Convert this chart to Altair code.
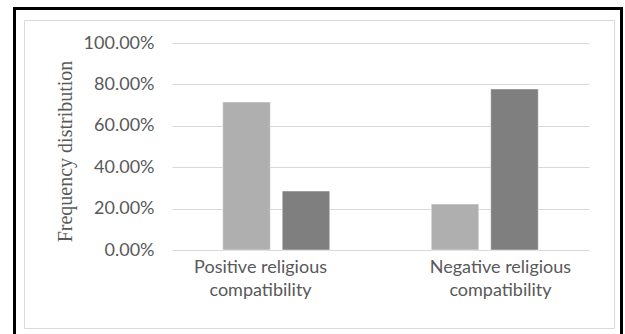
import altair as alt
import pandas as pd

# ---- data ----
categories = ["Positive religious compatibility", "Negative religious compatibility"]
label_lines = ["Positive religious\ncompatibility", "Negative religious\ncompatibility"]
series = ["Series 1", "Series 2"]
series1_values = [0.715, 0.222]
series2_values = [0.285, 0.778]
y_ticks = [0.0, 0.2, 0.4, 0.6, 0.8, 1.0]
y_title = "Frequency distribution"

# ---- styles / layout ----
colors = ["#afafaf", "#7f7f7f"]
text_gray = "#595959"
grid_gray = "#d9d9d9"
W, H = 417, 207
LEFT, TOP = 172, 43
RIGHT, BOTTOM = 625 - LEFT - W, 334 - TOP - H

rows = []
for i, c in enumerate(categories):
    rows.append({"category": c, "series": series[0], "value": series1_values[i]})
    rows.append({"category": c, "series": series[1], "value": series2_values[i]})
df = pd.DataFrame(rows)
labels_df = pd.DataFrame({"category": categories, "label": label_lines})
frame_df = pd.DataFrame({"k": [0]})

bars = alt.Chart(df).mark_bar(stroke="#ffffff", strokeWidth=0.5).encode(
    x=alt.X("category:N", sort=categories,
            scale=alt.Scale(paddingInner=0, paddingOuter=0), axis=None),
    xOffset=alt.XOffset("series:N", sort=series,
                        scale=alt.Scale(paddingInner=0.2, paddingOuter=0.853)),
    y=alt.Y("value:Q",
            scale=alt.Scale(domain=[0, 1], nice=False),
            axis=alt.Axis(values=y_ticks, format=".2%", grid=True,
                          gridColor=grid_gray, gridWidth=1,
                          domain=False, ticks=False,
                          labelFont="Lato", labelFontSize=18,
                          labelColor=text_gray, labelPadding=18,
                          title=y_title, titleFont="Liberation Serif",
                          titleFontSize=20, titleFontWeight="normal",
                          titleColor=text_gray, titleAngle=270,
                          titleX=-107, titleY=108,
                          titleAlign="center", titleBaseline="middle")),
    color=alt.Color("series:N", scale=alt.Scale(domain=series, range=colors),
                    legend=None),
)

labels = alt.Chart(labels_df).mark_text(
    font="Lato", fontSize=18, color=text_gray, lineBreak="\n",
    lineHeight=23, baseline="alphabetic", align="center"
).encode(
    x=alt.X("category:N", sort=categories,
            scale=alt.Scale(type="point", padding=0.369), axis=None),
    y=alt.value(273 - TOP),
    text="label:N",
)

outer = alt.Chart(frame_df).mark_rect(
    fill="white", fillOpacity=0, stroke="black", strokeWidth=3
).encode(
    x=alt.value(14.5 - LEFT), x2=alt.value(621.5 - LEFT),
    y=alt.value(8.5 - TOP), y2=alt.value(350 - TOP),
)

inner = alt.Chart(frame_df).mark_rect(
    fill="white", fillOpacity=0, stroke=grid_gray, strokeWidth=1
).encode(
    x=alt.value(24.5 - LEFT), x2=alt.value(614.5 - LEFT),
    y=alt.value(20.5 - TOP), y2=alt.value(328.5 - TOP),
)

chart = alt.layer(outer, inner, bars, labels).resolve_scale(
    x="independent"
).properties(
    width=W, height=H,
    autosize=alt.AutoSizeParams(type="none"),
    padding={"left": LEFT, "top": TOP, "right": RIGHT, "bottom": BOTTOM},
    background="white",
).configure_view(strokeWidth=0)

chart.save("out.html", embed_options={"renderer": "svg", "actions": False})
